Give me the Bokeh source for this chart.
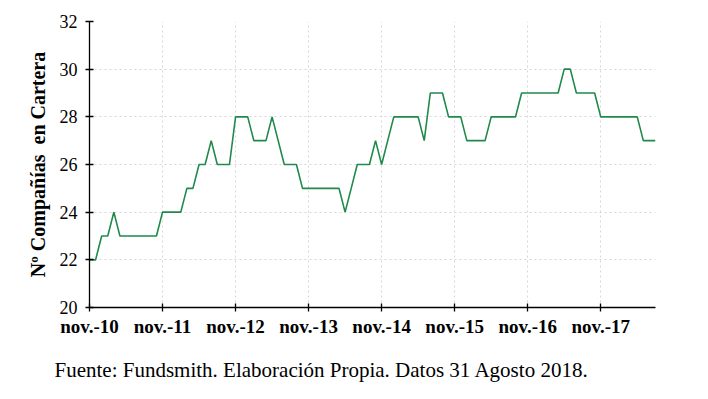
from bokeh.plotting import figure
from bokeh.models import Range1d, FixedTicker, Title
from bokeh.embed import file_html
from bokeh.resources import INLINE

# months since nov-2010 (0 = nov.-10 ... 93 = ago.-18)
companies = [22, 22, 23, 23, 24, 23, 23, 23, 23, 23, 23, 23,
             24, 24, 24, 24, 25, 25, 26, 26, 27, 26, 26, 26,
             28, 28, 28, 27, 27, 27, 28, 27, 26, 26, 26, 25,
             25, 25, 25, 25, 25, 25, 24, 25, 26, 26, 26, 27,
             26, 27, 28, 28, 28, 28, 28, 27, 29, 29, 29, 28,
             28, 28, 27, 27, 27, 27, 28, 28, 28, 28, 28, 29,
             29, 29, 29, 29, 29, 29, 30, 30, 29, 29, 29, 29,
             28, 28, 28, 28, 28, 28, 28, 27, 27, 27]
months = list(range(len(companies)))
tick_positions = [0, 12, 24, 36, 48, 60, 72, 84]
tick_labels = ["nov.-10", "nov.-11", "nov.-12", "nov.-13",
               "nov.-14", "nov.-15", "nov.-16", "nov.-17"]
y_ticks = [20, 22, 24, 26, 28, 30, 32]

FONT = "Liberation Serif"

p = figure(width=692, height=397, output_backend="svg", toolbar_location=None,
           x_range=Range1d(0, len(companies) - 1), y_range=Range1d(20, 32),
           min_border_left=89, min_border_right=37, min_border_top=21,
           min_border_bottom=89)
p.outline_line_color = None

p.line(months, companies, line_color="#1f8a4c", line_width=1.6)

# axes
p.xaxis.ticker = FixedTicker(ticks=tick_positions)
p.xaxis.major_label_overrides = {t: l for t, l in zip(tick_positions, tick_labels)}
p.yaxis.ticker = FixedTicker(ticks=y_ticks)
for ax in (p.xaxis[0], p.yaxis[0]):
    ax.axis_line_color = "black"
    ax.axis_line_width = 1.3
    ax.major_tick_line_color = "black"
    ax.major_tick_line_width = 1.3
    ax.major_tick_in = 4
    ax.major_tick_out = 4
    ax.minor_tick_line_color = None
    ax.major_label_text_font = FONT
    ax.major_label_text_color = "black"
p.xaxis.major_label_text_font_size = "19px"
p.yaxis.major_label_text_font_size = "18px"
p.xaxis.major_label_text_font_style = "bold"
p.xaxis.major_label_standoff = 4
p.yaxis.major_label_standoff = 8

p.yaxis.axis_label = "Nº Compañías\u00a0 en Cartera"
p.yaxis.axis_label_text_font = FONT
p.yaxis.axis_label_text_font_size = "20px"
p.yaxis.axis_label_text_font_style = "bold"
p.yaxis.axis_label_text_color = "black"
p.yaxis.axis_label_standoff = 8

# grid
p.xgrid.grid_line_color = "#d6d6d6"
p.xgrid.grid_line_dash = "2 3"
p.ygrid.grid_line_color = "#d6d6d6"
p.ygrid.grid_line_dash = "2 3"

cap = Title(text="Fuente: Fundsmith. Elaboración Propia. Datos 31 Agosto 2018.",
            text_font=FONT, text_font_size="21px", text_font_style="normal",
            text_color="black", align="left", offset=-35, standoff=32)
p.add_layout(cap, "below")

open("out.html", "w").write(file_html(p, INLINE))
